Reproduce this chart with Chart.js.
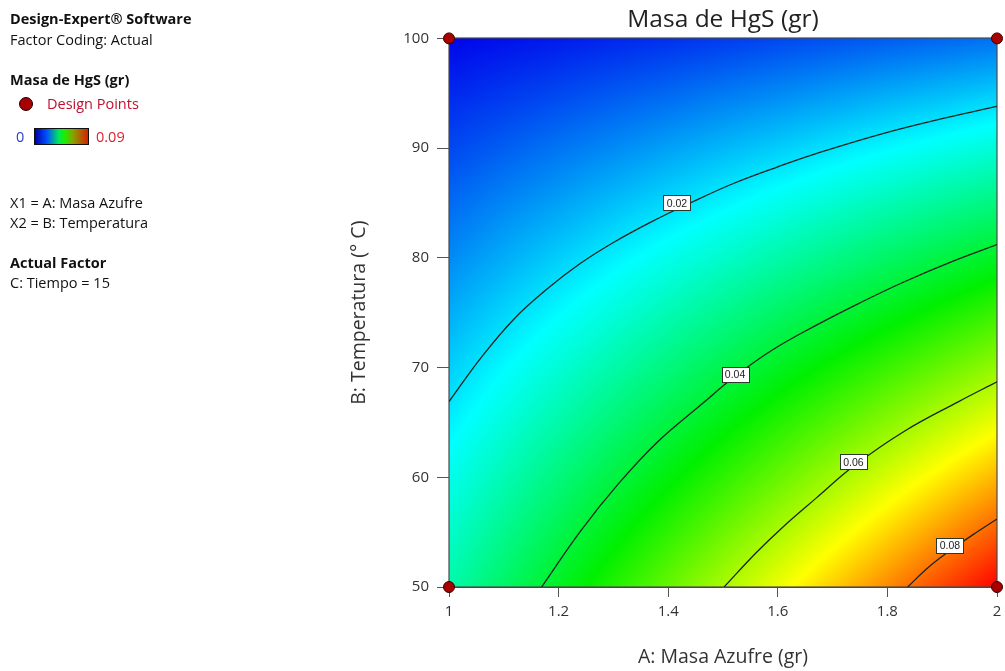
<!DOCTYPE html>
<html>
<head>
<meta charset="utf-8">
<script src="https://cdn.jsdelivr.net/npm/chart.js@4"></script>
<style>
  body { margin: 0; background: #fff; }
  #wrap { position: relative; width: 1005px; height: 671px; font-family: "Open Sans", sans-serif; }
  #chart { position: absolute; left: 0; top: 0; }
  .side { position: absolute; left: 10px; font-size: 14.5px; line-height: 20px; color: #111; white-space: nowrap; z-index: 2; }
  .side.b { font-weight: bold; }
  .dot { position: absolute; left: 19px; top: 97px; width: 12px; height: 12px; border-radius: 50%; background: #a80000; border: 1px solid #200; z-index: 2; }
  .bar { position: absolute; left: 34px; top: 128px; width: 53px; height: 15px; border: 1px solid #111; z-index: 2;
    background: linear-gradient(90deg, #0000a8 0%, #0050ff 22%, #00e85a 45%, #18f000 55%, #8aa000 72%, #d82000 100%); }
</style>
</head>
<body>
<div id="wrap">
  <canvas id="chart" width="1005" height="671"></canvas>
  <div class="side b" style="top:9px">Design-Expert® Software</div>
  <div class="side" style="top:30px">Factor Coding: Actual</div>
  <div class="side b" style="top:70px">Masa de HgS (gr)</div>
  <div class="dot"></div>
  <div class="side" style="top:94px; left:47px; color:#c0102e">Design Points</div>
  <div class="side" style="top:127px; left:16px; color:#2b3bd0">0</div>
  <div class="bar"></div>
  <div class="side" style="top:127px; left:96px; color:#e0202a">0.09</div>
  <div class="side" style="top:193px">X1 = A: Masa Azufre</div>
  <div class="side" style="top:213px">X2 = B: Temperatura</div>
  <div class="side b" style="top:253px">Actual Factor</div>
  <div class="side" style="top:273px">C: Tiempo = 15</div>
</div>
<script>
// grid (A across, B down the rows from 50 to 100)
const masaAzufre = [1.0, 1.1, 1.2, 1.3, 1.4, 1.5, 1.6, 1.7, 1.8, 1.9, 2.0];
const temperatura = [50, 55, 60, 65, 70, 75, 80, 85, 90, 95, 100];
const masaHgS = [
  [0.0300, 0.0360, 0.0420, 0.0480, 0.0540, 0.0600, 0.0660, 0.0720, 0.0780, 0.0840, 0.0900],
  [0.0270, 0.0325, 0.0380, 0.0435, 0.0490, 0.0545, 0.0600, 0.0655, 0.0710, 0.0765, 0.0820],
  [0.0241, 0.0291, 0.0341, 0.0391, 0.0440, 0.0490, 0.0540, 0.0590, 0.0640, 0.0690, 0.0740],
  [0.0211, 0.0256, 0.0301, 0.0346, 0.0391, 0.0436, 0.0481, 0.0525, 0.0570, 0.0615, 0.0660],
  [0.0182, 0.0222, 0.0261, 0.0301, 0.0341, 0.0381, 0.0421, 0.0461, 0.0501, 0.0540, 0.0580],
  [0.0152, 0.0187, 0.0222, 0.0256, 0.0291, 0.0326, 0.0361, 0.0396, 0.0430, 0.0465, 0.0500],
  [0.0122, 0.0152, 0.0182, 0.0212, 0.0242, 0.0271, 0.0301, 0.0331, 0.0361, 0.0390, 0.0420],
  [0.0093, 0.0118, 0.0142, 0.0167, 0.0192, 0.0216, 0.0241, 0.0266, 0.0291, 0.0315, 0.0340],
  [0.0063, 0.0083, 0.0103, 0.0122, 0.0142, 0.0162, 0.0181, 0.0201, 0.0221, 0.0240, 0.0260],
  [0.0034, 0.0048, 0.0063, 0.0078, 0.0092, 0.0107, 0.0121, 0.0136, 0.0151, 0.0165, 0.0180],
  [0.0004, 0.0014, 0.0023, 0.0033, 0.0042, 0.0052, 0.0062, 0.0071, 0.0081, 0.0090, 0.0100],
];
const colorMin = 0;
const colorMax = 0.09;

// contour lines
const contour002A = [1, 1.06, 1.12, 1.18, 1.24, 1.30, 1.37, 1.44, 1.52, 1.60, 1.67, 1.79, 1.91, 2];
const contour002B = [66.9, 71.0, 74.5, 77.2, 79.5, 81.4, 83.3, 85.0, 86.8, 88.3, 89.5, 91.3, 92.8, 93.8];
const contour004A = [1.169, 1.24, 1.309, 1.38, 1.462, 1.522, 1.59, 1.668, 1.75, 1.83, 1.92, 2];
const contour004B = [50, 55.1, 59.4, 63.2, 66.7, 69.2, 71.6, 73.8, 75.9, 77.8, 79.7, 81.2];
const contour006A = [1.502, 1.56, 1.61, 1.67, 1.738, 1.831, 1.93, 2];
const contour006B = [50, 53.1, 55.5, 58.1, 61.0, 64.2, 66.9, 68.7];
const contour008A = [1.837, 1.875, 1.914, 1.96, 2];
const contour008B = [50, 51.8, 53.3, 54.9, 56.2];

const contourLevels = ["0.02", "0.04", "0.06", "0.08"];
const labelA = [1.416, 1.522, 1.738, 1.914];
const labelB = [85.0, 69.4, 61.4, 53.8];

const designA = [1, 2, 1, 2];
const designB = [100, 100, 50, 50];

const xTickValues = [1, 1.2, 1.4, 1.6, 1.8, 2];
const yTickValues = [50, 60, 70, 80, 90, 100];

const colorStops = [
  [0, [0, 0, 235]],
  [0.25, [0, 255, 255]],
  [0.5, [0, 240, 0]],
  [0.75, [255, 255, 0]],
  [1, [255, 0, 0]],
];

function toPoints(xs, ys) {
  return xs.map((v, i) => ({ x: v, y: ys[i] }));
}

function colorFor(v) {
  let t = (v - colorMin) / (colorMax - colorMin);
  t = Math.max(0, Math.min(1, t));
  for (let i = 1; i < colorStops.length; i++) {
    const [t1, c1] = colorStops[i];
    const [t0, c0] = colorStops[i - 1];
    if (t <= t1) {
      const f = (t - t0) / (t1 - t0);
      return [0, 1, 2].map((k) => Math.round(c0[k] + (c1[k] - c0[k]) * f));
    }
  }
  return colorStops[colorStops.length - 1][1];
}

function gridIndex(arr, v) {
  let i = 0;
  while (i < arr.length - 2 && v > arr[i + 1]) i++;
  const f = (v - arr[i]) / (arr[i + 1] - arr[i]);
  return [i, Math.max(0, Math.min(1, f))];
}

function sampleGrid(a, b) {
  const [i, fx] = gridIndex(masaAzufre, a);
  const [j, fy] = gridIndex(temperatura, b);
  const v00 = masaHgS[j][i], v10 = masaHgS[j][i + 1];
  const v01 = masaHgS[j + 1][i], v11 = masaHgS[j + 1][i + 1];
  return (v00 * (1 - fx) + v10 * fx) * (1 - fy) + (v01 * (1 - fx) + v11 * fx) * fy;
}

const heatmapPlugin = {
  id: "heatmap",
  beforeDatasetsDraw(chart) {
    const { ctx, scales: { x, y } } = chart;
    const left = Math.round(x.getPixelForValue(masaAzufre[0]));
    const right = Math.round(x.getPixelForValue(masaAzufre[masaAzufre.length - 1]));
    const top = Math.round(y.getPixelForValue(temperatura[temperatura.length - 1]));
    const bottom = Math.round(y.getPixelForValue(temperatura[0]));
    const w = right - left;
    const h = bottom - top;

    const off = document.createElement("canvas");
    off.width = w;
    off.height = h;
    const octx = off.getContext("2d");
    const img = octx.createImageData(w, h);
    for (let py = 0; py < h; py++) {
      const b = y.getValueForPixel(top + py + 0.5);
      for (let px = 0; px < w; px++) {
        const a = x.getValueForPixel(left + px + 0.5);
        const c = colorFor(sampleGrid(a, b));
        const k = (py * w + px) * 4;
        img.data[k] = c[0];
        img.data[k + 1] = c[1];
        img.data[k + 2] = c[2];
        img.data[k + 3] = 255;
      }
    }
    octx.putImageData(img, 0, 0);
    ctx.drawImage(off, left, top);

    ctx.save();
    ctx.strokeStyle = "#4a4a4a";
    ctx.lineWidth = 1.2;
    ctx.strokeRect(left, top, w, h);
    ctx.restore();
  },
  afterDatasetsDraw(chart) {
    const { ctx, scales: { x, y } } = chart;
    ctx.save();
    ctx.font = "10.5px 'Liberation Sans', Arial, sans-serif";
    ctx.textAlign = "center";
    ctx.textBaseline = "middle";
    contourLevels.forEach((txt, i) => {
      const cx = x.getPixelForValue(labelA[i]);
      const cy = y.getPixelForValue(labelB[i]);
      const bw = Math.round(ctx.measureText(txt).width + 7);
      const bh = 15;
      const bx = Math.round(cx - bw / 2) + 0.5;
      const by = Math.round(cy - bh / 2) + 0.5;
      ctx.fillStyle = "#fff";
      ctx.fillRect(bx, by, bw, bh);
      ctx.strokeStyle = "#2a3a2a";
      ctx.lineWidth = 1;
      ctx.strokeRect(bx, by, bw, bh);
      ctx.fillStyle = "#222";
      ctx.fillText(txt, cx, cy + 1);
    });
    ctx.restore();
  },
};

function contourSet(xs, ys) {
  return {
    type: "line",
    data: toPoints(xs, ys),
    borderColor: "#1c241c",
    borderWidth: 1.3,
    pointRadius: 0,
    fill: false,
    tension: 0.4,
    order: 2,
  };
}

Chart.defaults.font.family = "'Open Sans', sans-serif";

new Chart(document.getElementById("chart"), {
  type: "scatter",
  data: {
    datasets: [
      contourSet(contour002A, contour002B),
      contourSet(contour004A, contour004B),
      contourSet(contour006A, contour006B),
      contourSet(contour008A, contour008B),
      {
        type: "scatter",
        data: toPoints(designA, designB),
        pointRadius: 5.5,
        backgroundColor: "#a80000",
        borderColor: "#3a0000",
        borderWidth: 1,
        clip: false,
        order: 1,
      },
    ],
  },
  options: {
    responsive: false,
    animation: false,
    events: [],
    layout: { padding: { left: 340, right: 8, top: 0, bottom: 0 } },
    plugins: {
      legend: { display: false },
      tooltip: { enabled: false },
      title: {
        display: true,
        text: "Masa de HgS (gr)",
        fullSize: false,
        color: "#222",
        font: { size: 24.5, weight: "normal" },
        padding: { top: 5, bottom: 4 },
      },
    },
    scales: {
      x: {
        type: "linear",
        min: 1,
        max: 2,
        afterBuildTicks: (scale) => { scale.ticks = xTickValues.map((v) => ({ value: v })); },
        afterFit: (scale) => {
          scale.height = 84;
          scale.paddingLeft = 0;
          scale.paddingRight = 0;
        },
        ticks: {
          color: "#333",
          font: { size: 15 },
          padding: 6,
          callback: (v) => String(+Number(v).toFixed(2)),
        },
        grid: { drawOnChartArea: false, tickLength: 10, tickColor: "#555" },
        border: { color: "#4a4a4a" },
        title: {
          display: true,
          text: "A: Masa Azufre (gr)",
          color: "#333",
          font: { size: 19.5 },
          padding: { top: 0, bottom: 2 },
        },
      },
      y: {
        type: "linear",
        min: 50,
        max: 100,
        afterBuildTicks: (scale) => { scale.ticks = yTickValues.map((v) => ({ value: v })); },
        afterFit: (scale) => { scale.width = 109; },
        ticks: { color: "#333", font: { size: 15 }, padding: 8 },
        grid: { drawOnChartArea: false, tickLength: 12, tickColor: "#555" },
        border: { color: "#4a4a4a" },
        title: {
          display: true,
          text: "B: Temperatura (° C)",
          color: "#333",
          font: { size: 19.5 },
          padding: { top: 8, bottom: 0 },
        },
      },
    },
  },
  plugins: [heatmapPlugin],
});
</script>
</body>
</html>
